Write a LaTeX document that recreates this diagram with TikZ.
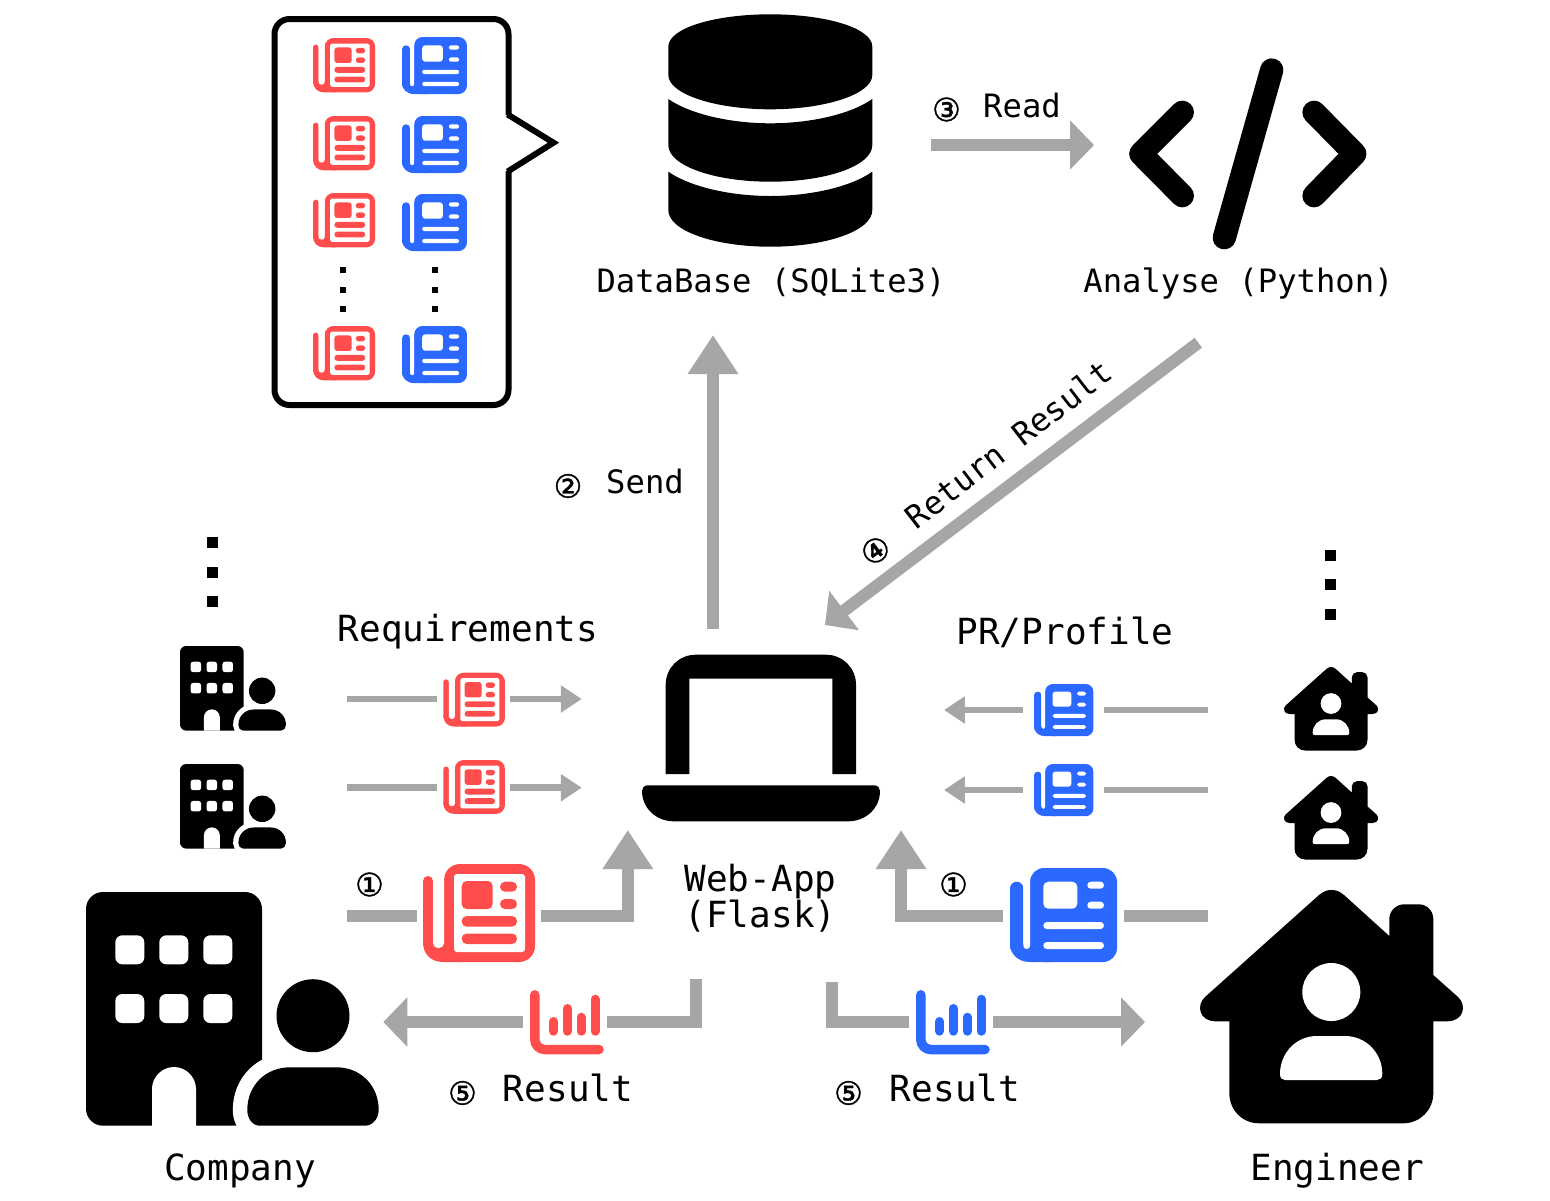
\documentclass[tikz,border=0pt]{standalone}
\usepackage{fontspec}
\usetikzlibrary{arrows.meta}
\newfontfamily\monof{DejaVu Sans Mono}
\newfontfamily\symf[FakeBold=1.2]{DejaVu Sans}
\definecolor{rd}{HTML}{FF4D4D}
\definecolor{bl}{HTML}{2B68FF}
\definecolor{gr}{HTML}{A6A6A6}
\def\ics{1}
\tikzset{
  rc/.style={rounded corners={#1*\ics*0.5pt}},
  txtbig/.style={font=\monof\fontsize{18}{20}\selectfont,inner sep=0pt,anchor=base},
  txtmid/.style={font=\monof\fontsize{16.1}{20}\selectfont,inner sep=0pt,anchor=base},
  numsym/.style={font=\symf\fontsize{16}{20}\selectfont,inner sep=0pt,anchor=center},
  bigline/.style={draw=gr,line width=6.15pt},
  bigarrow/.style={bigline,-{Triangle[length=12pt,width=24pt]}},
  bigarrowup/.style={bigline,-{Triangle[length=19.5pt,width=24pt]}},
  thinline/.style={draw=gr,line width=3.4pt},
  thinarrow/.style={thinline,-{Triangle[length=10.4pt,width=13pt]}},
  codestroke/.style={draw=black,line width=11.65pt,line cap=round,line join=round},
}
\newcommand{\redpaper}[3]{\begin{scope}[shift={(#1,#2)},scale=#3]\def\ics{#3}
  \path[fill=rd,rc=5] (0,12) rectangle (10,85);
  \path[fill=rd,rc=16] (21,0) rectangle (112,98);
  \path[fill=rd] (0,78) .. controls (0,90) and (8,98) .. (20,98) -- (40,98) -- (40,78) -- cycle;
  \path[fill=white,rc=5] (10,-5) rectangle (21,84);
  \path[fill=white,rc=3] (31,10) rectangle (102,88);
  \path[fill=rd,rc=5] (38.7,17) rectangle (69.7,45);
  \path[fill=rd,rc=5] (77,17.7) rectangle (94,27.7);
  \path[fill=rd,rc=5] (77,35) rectangle (94,45);
  \path[fill=rd,rc=5] (38.7,52) rectangle (94,62.7);
  \path[fill=rd,rc=5] (38.7,69.5) rectangle (94,80);
\end{scope}}
\newcommand{\bluepaper}[3]{\begin{scope}[shift={(#1,#2)},scale=#3]\def\ics{#3}
  \path[fill=bl,rc=6.6] (0,13.7) rectangle (13.3,85);
  \path[fill=bl,rc=14] (20,0) rectangle (107,94);
  \path[fill=bl] (0,76) .. controls (0,86) and (8,94) .. (20,94) -- (40,94) -- (40,76) -- cycle;
  \path[fill=white,rc=3.3] (13.3,-5) rectangle (20,81);
  \path[fill=white,rc=5] (33.3,13.7) rectangle (67.3,40.7);
  \path[fill=white,rc=3.5] (77.3,13.7) rectangle (94,20.7);
  \path[fill=white,rc=3.5] (77.3,33.7) rectangle (94,40.7);
  \path[fill=white,rc=3.5] (33.3,54) rectangle (94,61);
  \path[fill=white,rc=3.5] (33.3,74) rectangle (94,81);
\end{scope}}
\newcommand{\chartico}[3]{\begin{scope}[shift={(#1,#2)}]
  \draw[#3,line width=4.75pt,line cap=round,rounded corners=5pt] (4.8,4.8) -- (4.8,59.5) -- (69,59.5);
  \draw[#3,line width=4.5pt,line cap=round] (23.5,31.5) -- (23.5,41.2) (37.3,18.5) -- (37.3,41.2) (51,27.2) -- (51,41.2) (65,9.2) -- (65,41.2);
\end{scope}}
\newcommand{\companyico}[3]{\begin{scope}[shift={(#1,#2)},scale=#3]\def\ics{#3}
  \path[fill=black,rc=17] (0,0) rectangle (176,233.7);
  \foreach \wx in {29.3,73.3,117.3}{\foreach \wy in {43.3,102}{
    \path[fill=white,rc=7] (\wx,\wy) rectangle ++(29,29);}}
  \path[fill=white] (66,234) -- (66,197) .. controls (66,185) and (76,175) .. (88,175) .. controls (100,175) and (110,185) .. (110,197) -- (110,234) -- cycle;
  \path[draw=white,fill=white,line width={29*#3*0.5pt}] (174,233.7) .. controls (166,233.7) and (161.3,226) .. (161.3,218) .. controls (161.3,193) and (180,175.3) .. (204,175.3) -- (250.7,175.3) .. controls (274,175.3) and (292.7,193) .. (292.7,218) .. controls (292.7,226) and (287,233.7) .. (279,233.7) -- cycle;
  \path[fill=black] (174,233.7) .. controls (166,233.7) and (161.3,226) .. (161.3,218) .. controls (161.3,193) and (180,175.3) .. (204,175.3) -- (250.7,175.3) .. controls (274,175.3) and (292.7,193) .. (292.7,218) .. controls (292.7,226) and (287,233.7) .. (279,233.7) -- cycle;
  \path[fill=black] (227,123.7) circle[radius=36.5];
\end{scope}}
\newcommand{\houseico}[3]{\begin{scope}[shift={(#1,#2)},scale=#3]\def\ics{#3}
  \path[fill=black] (119,5) .. controls (124,1) and (127,0) .. (131.3,0) .. controls (136,0) and (139,1) .. (144,5) -- (189.3,46) -- (189.3,29) .. controls (189.3,21) and (196,14.3) .. (204,14.3) -- (219,14.3) .. controls (227,14.3) and (233.3,21) .. (233.3,29) -- (233.3,85) -- (258,107) .. controls (267,115) and (264,131.3) .. (247,131.3) -- (233.3,131.3) -- (233.3,203) .. controls (233.3,220) and (220,233.3) .. (203,233.3) -- (59.3,233.3) .. controls (42,233.3) and (29.3,220) .. (29.3,203) -- (29.3,131.3) -- (15.7,131.3) .. controls (-1,131.3) and (-4,115) .. (5,107) -- cycle;
  \path[fill=white] (131.3,102) circle[radius=29];
  \path[fill=white] (85,190) .. controls (82,190) and (80,188) .. (80,184) .. controls (80,163) and (96,146) .. (117,146) -- (145,146) .. controls (166,146) and (182.3,163) .. (182.3,184) .. controls (182.3,188) and (180,190) .. (177,190) -- cycle;
\end{scope}}
\begin{document}
\begin{tikzpicture}[x=0.5pt,y=-0.5pt]
\useasboundingbox (0,0) rectangle (1550,1200);
\fill[white] (0,0) rectangle (1550,1200);

% speech bubble
\draw[black,line width=3pt,line join=miter,rounded corners=7.5pt]
  (508.5,115) -- (508.5,19) -- (274.5,19) -- (274.5,405) -- (508.5,405) -- (508.5,171);
\draw[black,line width=3pt,line join=miter] (507.5,114.4) -- (508.5,115) -- (553.5,142.7) -- (508.5,171) -- (507.5,171.6);
\foreach \py in {38,116,193,326}{\redpaper{313}{\py}{0.555}}
\foreach \qy in {37,116,194,326}{\bluepaper{402}{\qy}{0.607}}
\foreach \dx in {343,435}{\foreach \dy in {270,290,309}{\fill[black] (\dx-3,\dy-3) rectangle (\dx+3,\dy+3);}}

% database
\fill[black] (668.3,46.7) .. controls (668.3,28) and (715,14.3) .. (770.3,14.3) .. controls (826,14.3) and (872.3,28) .. (872.3,46.7) -- (872.3,75) .. controls (872.3,94) and (826,109.3) .. (770.3,109.3) .. controls (715,109.3) and (668.3,94) .. (668.3,75) -- cycle;
\fill[black] (668.3,99) .. controls (690,114) and (730,123.3) .. (770.3,123.3) .. controls (811,123.3) and (851,114) .. (872.3,99) -- (872.3,145) .. controls (872.3,166) and (826,181.7) .. (770.3,181.7) .. controls (715,181.7) and (668.3,166) .. (668.3,145) -- cycle;
\fill[black] (668.3,171.7) .. controls (690,186.7) and (730,196) .. (770.3,196) .. controls (811,196) and (851,186.7) .. (872.3,171.7) -- (872.3,210) .. controls (872.3,231) and (826,246.7) .. (770.3,246.7) .. controls (715,246.7) and (668.3,231) .. (668.3,210) -- cycle;

% code icon
\draw[codestroke] (1182.3,112.3) -- (1140.8,153.8) -- (1182.3,195.7);
\draw[codestroke] (1314,112.3) -- (1354.8,153.8) -- (1314,195.7);
\draw[codestroke] (1271.7,70) -- (1224.3,237.7);

% laptop
\fill[black] (665.7,774) -- (665.7,684.7) .. controls (665.7,668) and (679,654.7) .. (695.7,654.7) -- (826,654.7) .. controls (842.7,654.7) and (856,668) .. (856,684.7) -- (856,774) -- (832.3,774) -- (832.3,678.7) -- (689.3,678.7) -- (689.3,774) -- cycle;
\fill[black] (648,785.3) -- (874,785.3) .. controls (878,785.3) and (880,788) .. (880,791) .. controls (880,808) and (866,821.3) .. (848,821.3) -- (674,821.3) .. controls (656,821.3) and (642,808) .. (642,791) .. controls (642,788) and (644,785.3) .. (648,785.3) -- cycle;

% outer icons
\companyico{86}{892}{1}
\companyico{180}{646}{0.362}
\companyico{180}{764}{0.362}
\houseico{1200}{890}{1}
\houseico{1284}{667}{0.358}
\houseico{1284}{776}{0.358}
\foreach \dy in {542,572.5,601.5}{\fill[black] (207,\dy-5.5) rectangle (218,\dy+5.5);}
\foreach \dy in {555,584.5,614.5}{\fill[black] (1325,\dy-5.5) rectangle (1336,\dy+5.5);}

% connector ends
\coordinate (readA) at (930.7,145);
\coordinate (readB) at (1094,145);
\coordinate (sendA) at (713,629);
\coordinate (sendB) at (713,335);
\coordinate (retA) at (1198.3,342.7);
\coordinate (retB) at (825,625);
\coordinate (la1) at (346.7,699);
\coordinate (la2) at (437,699);
\coordinate (la3) at (510.3,699);
\coordinate (la4) at (581.7,699);
\coordinate (lb1) at (346.7,787.7);
\coordinate (lb2) at (437,787.7);
\coordinate (lb3) at (510.3,787.7);
\coordinate (lb4) at (581.7,787.7);
\coordinate (ra1) at (1208,710);
\coordinate (ra2) at (1104,710);
\coordinate (ra3) at (1023,710);
\coordinate (ra4) at (944,710);
\coordinate (rb1) at (1208,790);
\coordinate (rb2) at (1104,790);
\coordinate (rb3) at (1023,790);
\coordinate (rb4) at (944,790);
\coordinate (oneLa) at (346.7,915.7);
\coordinate (oneLb) at (417,915.7);
\coordinate (oneLc) at (540.7,915.7);
\coordinate (oneLd) at (627.8,830);
\coordinate (oneRa) at (1208,915.7);
\coordinate (oneRb) at (1124.4,915.7);
\coordinate (oneRc) at (1003,915.7);
\coordinate (oneRd) at (901,830);
\coordinate (resLa) at (696.3,979.3);
\coordinate (resLb) at (606.7,1022);
\coordinate (resLc) at (523.3,1022);
\coordinate (resLd) at (383.3,1022);
\coordinate (resRa) at (831.7,982.3);
\coordinate (resRb) at (909.3,1022);
\coordinate (resRc) at (992.7,1022);
\coordinate (resRd) at (1145,1022);

% connectors
\draw[bigarrow] (readA) -- (readB);
\draw[bigarrowup] (sendA) -- (sendB);
\draw[bigarrow] (retA) -- (retB);
\draw[thinline] (la1) -- (la2);
\draw[thinarrow] (la3) -- (la4);
\draw[thinline] (lb1) -- (lb2);
\draw[thinarrow] (lb3) -- (lb4);
\draw[thinline] (ra1) -- (ra2);
\draw[thinarrow] (ra3) -- (ra4);
\draw[thinline] (rb1) -- (rb2);
\draw[thinarrow] (rb3) -- (rb4);
\draw[bigline] (oneLa) -- (oneLb);
\draw[bigarrowup] (oneLc) -| (oneLd);
\draw[bigline] (oneRa) -- (oneRb);
\draw[bigarrowup] (oneRc) -| (oneRd);
\draw[bigline] (resLa) |- (resLb);
\draw[bigarrow] (resLc) -- (resLd);
\draw[bigline] (resRa) |- (resRb);
\draw[bigarrow] (resRc) -- (resRd);

% papers and charts on connectors
\redpaper{443.3}{672.7}{0.55}
\redpaper{443.3}{760}{0.55}
\redpaper{423}{864}{1}
\bluepaper{1034}{684}{0.555}
\bluepaper{1034}{764}{0.555}
\bluepaper{1010}{868}{1}
\chartico{530}{990}{rd}
\chartico{916}{990}{bl}

% text
\node[txtmid] (tDb) at (771,292) {DataBase (SQLite3)};
\node[txtmid] (tAn) at (1238.5,292) {Analyse (Python)};
\node[txtmid] (tRead) at (1022,117) {Read};
\node[numsym] (n3) at (946.5,109.5) {③};
\node[txtmid] (tSend) at (645,493) {Send};
\node[numsym] (n2) at (568,486) {②};
\node[txtbig] (tReq) at (468,641) {Requirements};
\node[txtbig] (tPr) at (1065,644) {PR/Profile};
\node[txtbig] (tWeb) at (760.5,891) {Web-App};
\node[txtbig] (tFlask) at (760.5,927) {(Flask)};
\node[numsym] (n1a) at (369.5,884.5) {①};
\node[numsym] (n1b) at (953.5,884.5) {①};
\node[numsym] (n5a) at (462.5,1093) {⑤};
\node[numsym] (n5b) at (848.5,1093) {⑤};
\node[txtbig] (tResA) at (568,1101.7) {Result};
\node[txtbig] (tResB) at (955,1101.7) {Result};
\node[txtbig] (tCo) at (240,1180) {Company};
\node[txtbig] (tEn) at (1337,1180) {Engineer};
\node[numsym,rotate=37] (n4) at (875.5,550.5) {④};
\node[font=\monof\fontsize{16}{20}\selectfont,inner sep=0pt,anchor=center,rotate=37.7] (tRet) at (1008.5,444) {Return Result};
\end{tikzpicture}
\end{document}
